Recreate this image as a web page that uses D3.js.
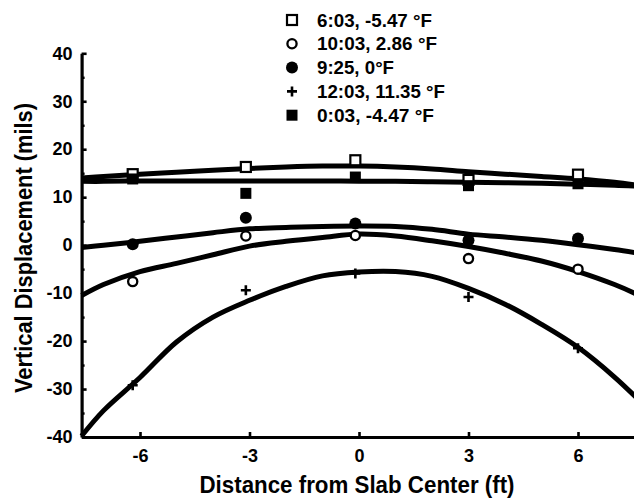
<!DOCTYPE html>
<html>
<head>
<meta charset="utf-8">
<script src="https://cdn.jsdelivr.net/npm/d3@7"></script>
<style>
  html, body { margin: 0; padding: 0; background: #fff; }
  svg { display: block; }
  text { font-family: "Liberation Sans", Arial, Helvetica, sans-serif; font-weight: bold; fill: #000; }
</style>
</head>
<body>
<svg id="chart" width="634" height="498"></svg>
<script>
// Gauge positions along the slab (ft) and measured displacements (mils)
const gaugeX = [-6.2, -3.1, -0.1, 3.0, 6.0];
const disp0603 = [14.8, 16.3, 17.7, 13.6, 14.7];
const disp1003 = [-7.6, 1.9, 2.0, -2.8, -5.0];
const disp0925 = [0.2, 5.7, 4.5, 1.0, 1.4];
const disp1203 = [-29.2, -9.4, -5.9, -10.8, -21.5];
const disp0003 = [13.8, 10.8, 14.2, 12.4, 12.8];

// Fitted profiles sampled across the slab
const fitX = [-7.6, -7, -6, -5, -4, -3, -2, -1, 0, 1, 2, 3, 4, 5, 6, 7, 7.6];
const fit0603 = [14.0, 14.3, 14.8, 15.2, 15.6, 16.0, 16.3, 16.5, 16.5, 16.3, 15.9, 15.3, 14.8, 14.3, 13.8, 13.1, 12.5];
const fit1003 = [-10.5, -8.2, -5.5, -3.8, -2.0, -0.2, 0.8, 1.6, 2.3, 1.9, 0.9, -0.3, -1.7, -3.3, -5.5, -8.2, -10.2];
const fit0925 = [-0.5, 0.0, 0.8, 1.7, 2.6, 3.4, 3.7, 3.9, 4.0, 3.9, 3.3, 2.3, 1.7, 1.0, 0.1, -0.9, -1.6];
const fit1203 = [-39.8, -34.5, -27.6, -20.2, -15.0, -11.5, -8.6, -6.4, -5.6, -5.5, -6.5, -9.0, -12.3, -16.5, -21.3, -27.5, -31.8];
const fit0003 = [13.3, 13.3, 13.4, 13.4, 13.4, 13.4, 13.4, 13.4, 13.3, 13.3, 13.2, 13.1, 13.0, 12.9, 12.7, 12.5, 12.3];

const legendLabels = ["6:03, -5.47 °F", "10:03, 2.86 °F", "9:25, 0°F", "12:03, 11.35 °F", "0:03, -4.47 °F"];
const xTicks = [-6, -3, 0, 3, 6];
const yTicks = [-40, -30, -20, -10, 0, 10, 20, 30, 40];
const yMinorTicks = [-35, -25, -15, -5, 5, 15, 25, 35];

const series = [
  { key: "s0603", label: legendLabels[0], shape: "openSquare", values: disp0603, fit: fit0603, w: 115 },
  { key: "s1003", label: legendLabels[1], shape: "openCircle", values: disp1003, fit: fit1003, w: 120 },
  { key: "s0925", label: legendLabels[2], shape: "filledCircle", values: disp0925, fit: fit0925, w: 77 },
  { key: "s1203", label: legendLabels[3], shape: "plus", values: disp1203, fit: fit1203, w: 128 },
  { key: "s0003", label: legendLabels[4], shape: "filledSquare", values: disp0003, fit: fit0003, w: 117 }
];

const svg = d3.select("#chart");
const x = d3.scaleLinear().domain([-7.6, 7.6]).range([81.6, 636.4]);
const y = d3.scaleLinear().domain([-40, 40]).range([437, 53.3]);

// Fitted curves
const line = d3.line()
  .x((d, i) => x(fitX[i]))
  .y(d => y(d))
  .curve(d3.curveCatmullRom.alpha(0.5));

svg.append("g").selectAll("path")
  .data(series)
  .join("path")
  .attr("d", s => line(s.fit))
  .attr("fill", "none")
  .attr("stroke", "#000")
  .attr("stroke-width", 5)
  .attr("stroke-linecap", "butt")
  .attr("stroke-linejoin", "round");

// Marker drawing
function drawMarker(g, shape, cx, cy) {
  if (shape === "openSquare") {
    g.append("rect").attr("x", cx - 5).attr("y", cy - 5).attr("width", 10).attr("height", 10)
      .attr("fill", "#fff").attr("stroke", "#000").attr("stroke-width", 2.2);
  } else if (shape === "filledSquare") {
    g.append("rect").attr("x", cx - 5.5).attr("y", cy - 5.5).attr("width", 11).attr("height", 11)
      .attr("fill", "#000");
  } else if (shape === "openCircle") {
    g.append("circle").attr("cx", cx).attr("cy", cy).attr("r", 4.6)
      .attr("fill", "#fff").attr("stroke", "#000").attr("stroke-width", 2.3);
  } else if (shape === "filledCircle") {
    g.append("circle").attr("cx", cx).attr("cy", cy).attr("r", 6).attr("fill", "#000");
  } else if (shape === "plus") {
    g.append("path").attr("d", `M${cx - 5},${cy}H${cx + 5}M${cx},${cy - 5}V${cy + 5}`)
      .attr("stroke", "#000").attr("stroke-width", 2.6).attr("fill", "none");
  }
}

const markers = svg.append("g");
series.forEach(s => {
  s.values.forEach((v, i) => drawMarker(markers, s.shape, x(gaugeX[i]), y(v)));
});

// Axes
const fmt = d => d3.format("d")(d).replace("\u2212", "-");
const axisStyle = g => {
  g.select(".domain").attr("stroke-width", 3.2);
  g.selectAll(".tick line").attr("stroke-width", 2.6);
  g.selectAll(".tick text").attr("font-size", 18)
    .style("font-family", "\"Liberation Sans\", Arial, sans-serif")
    .style("font-weight", "bold");
};

svg.append("g").attr("transform", `translate(0,${y(-40)})`)
  .call(d3.axisBottom(x).tickValues(xTicks).tickSize(-5).tickSizeOuter(0).tickPadding(12).tickFormat(fmt))
  .call(axisStyle);

svg.append("g").attr("transform", `translate(${x(-7.6)},0)`)
  .call(d3.axisLeft(y).tickValues(yTicks).tickSize(-5).tickSizeOuter(0).tickPadding(9).tickFormat(fmt))
  .call(axisStyle);

svg.append("g").attr("transform", `translate(${x(-7.6)},0)`)
  .call(d3.axisLeft(y).tickValues(yMinorTicks).tickSize(-3).tickSizeOuter(0).tickFormat(""))
  .call(g => g.select(".domain").remove())
  .call(g => g.selectAll(".tick line").attr("stroke-width", 2.4));

// Axis titles
svg.append("text")
  .attr("x", 357).attr("y", 493)
  .attr("text-anchor", "middle")
  .attr("font-size", 23)
  .attr("textLength", 315)
  .attr("lengthAdjust", "spacingAndGlyphs")
  .text("Distance from Slab Center (ft)");

svg.append("text")
  .attr("transform", `translate(32,248) rotate(-90)`)
  .attr("text-anchor", "middle")
  .attr("font-size", 23)
  .attr("textLength", 290)
  .attr("lengthAdjust", "spacingAndGlyphs")
  .text("Vertical Displacement (mils)");

// Legend
const legend = svg.append("g");
series.forEach((s, i) => {
  const cy = 20 + i * 23.8;
  drawMarker(legend, s.shape, 292, cy);
  legend.append("text")
    .attr("x", 317).attr("y", cy + 6.5)
    .attr("font-size", 18)
    .attr("textLength", s.w)
    .attr("lengthAdjust", "spacingAndGlyphs")
    .text(s.label);
});
</script>
</body>
</html>
